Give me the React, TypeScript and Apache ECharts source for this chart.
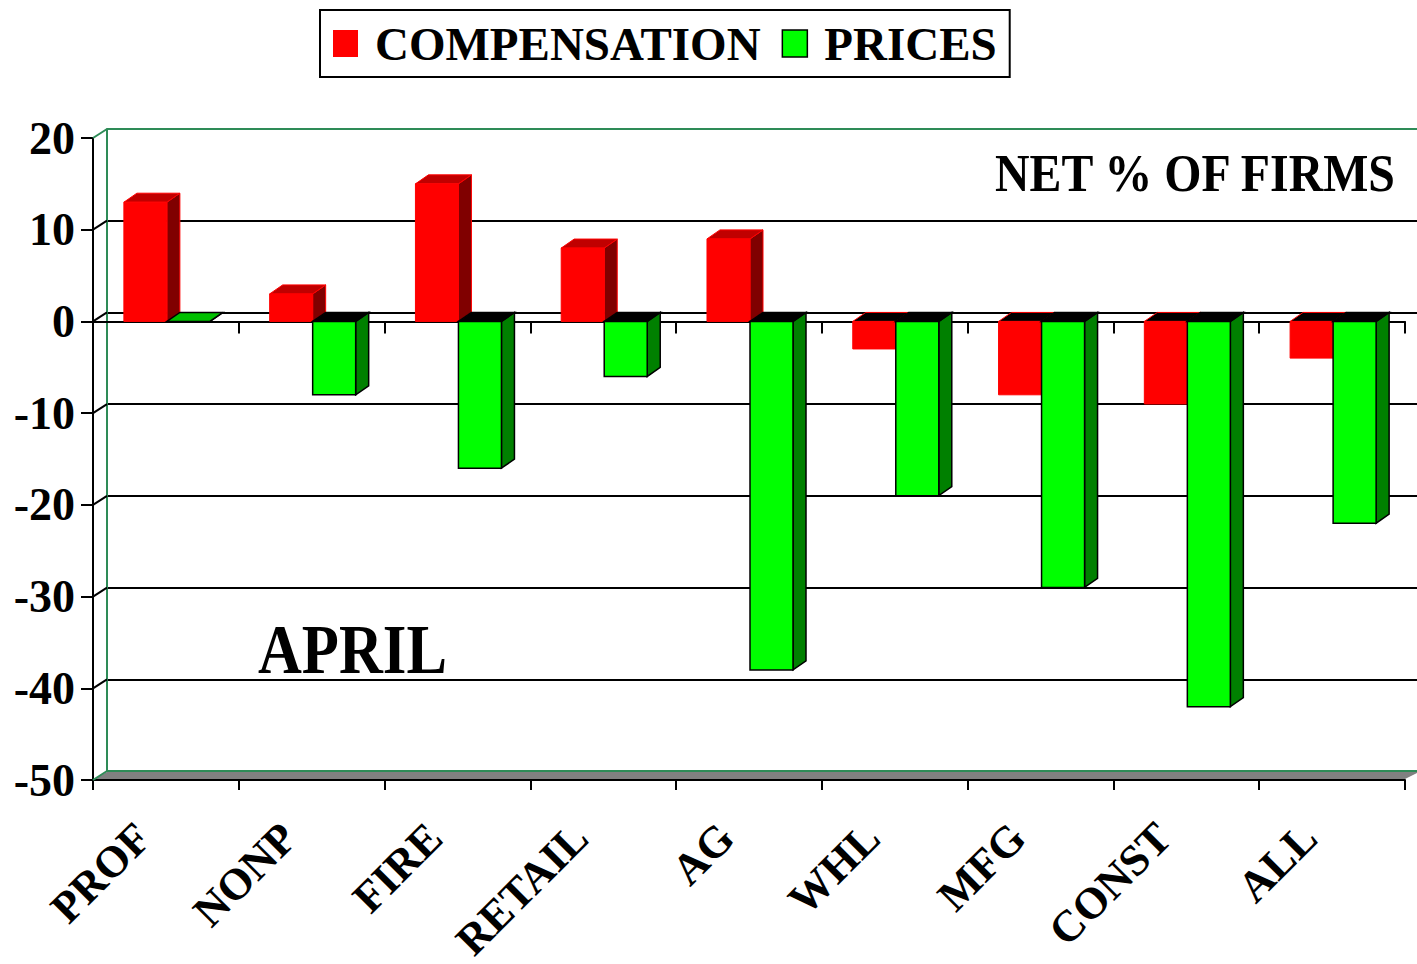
import React, { useEffect, useRef } from "react";
import * as echarts from "echarts";

const categories = ["PROF", "NONP", "FIRE", "RETAIL", "AG", "WHL", "MFG", "CONST", "ALL"];
const compensation = [13, 3, 15, 8, 9, -3, -8, -9, -4];
const prices = [0, -8, -16, -6, -38, -19, -29, -42, -22];
const yTicks = [-50, -40, -30, -20, -10, 0, 10, 20];
const Y_MIN = -50;
const Y_MAX = 20;
const Y_STEP = 10;

const FONT = "'Liberation Serif', 'Times New Roman', serif";
const WALL = "#2e8b57";
const DX = 13;
const DY = -9;

type Palette = { front: string; side: string; top: string; stroke: string; lw: number; negTopStroke: string };
const RED: Palette = { front: "#ff0000", side: "#800000", top: "#c00000", stroke: "#ff0000", lw: 1, negTopStroke: "#ff0000" };
const GREEN: Palette = { front: "#00ff00", side: "#008000", top: "#00c000", stroke: "#000000", lw: 1.5, negTopStroke: "#000000" };

function makeBarRender(side: number, pal: Palette) {
  return (params: any, api: any) => {
    const idx = api.value(0);
    const v = api.value(1);
    const c = api.coord([idx, 0]);
    const p = api.coord([idx, v]);
    const band = api.size([1, 0])[0];
    const w = band * 0.295;
    const x0 = side < 0 ? c[0] - w + 1 : c[0] + 1;
    const x1 = x0 + w;
    const yA = Math.min(c[1], p[1]);
    const yB = Math.max(c[1], p[1]);
    const positive = v >= 0;
    const children: any[] = [];
    children.push({
      type: "polygon",
      shape: { points: [[x1, yA], [x1 + DX, yA + DY], [x1 + DX, yB + DY], [x1, yB]] },
      style: { fill: pal.side, stroke: pal.stroke, lineWidth: pal.lw },
    });
    children.push({
      type: "polygon",
      shape: { points: [[x0, yA], [x0 + DX, yA + DY], [x1 + DX, yA + DY], [x1, yA]] },
      style: {
        fill: positive ? pal.top : "#000000",
        stroke: positive ? pal.stroke : pal.negTopStroke,
        lineWidth: pal.lw,
      },
    });
    if (yB - yA > 0.5) {
      children.push({
        type: "rect",
        shape: { x: x0, y: yA, width: w, height: yB - yA },
        style: { fill: pal.front, stroke: pal.stroke, lineWidth: pal.lw },
      });
    }
    return { type: "group", children };
  };
}

function frameRender(params: any, api: any) {
  const v = api.value(1);
  const y = api.coord([0, v])[1];
  const cs = params.coordSys;
  const left = cs.x;
  const width = cs.width;
  const edge = v === Y_MIN || v === Y_MAX;
  const children: any[] = [];
  if (v === Y_MIN) {
    children.push({
      type: "polygon",
      shape: {
        points: [
          [left + 1, y - 1],
          [left + width, y - 1],
          [left + width + DX + 1, y + DY + 1],
          [left + DX + 1, y + DY + 1],
        ],
      },
      style: { fill: "#808080" },
    });
  }
  children.push({
    type: "line",
    shape: { x1: left, y1: y, x2: left + DX + 1, y2: y + DY },
    style: { stroke: edge ? WALL : "#000000", lineWidth: 2 },
  });
  return { type: "group", children };
}

export default function App() {
  const ref = useRef<HTMLDivElement>(null);
  useEffect(() => {
    if (!ref.current) return;
    const chart = echarts.init(ref.current, null, { renderer: "svg" });
    const valueAxisBase = { type: "value", min: Y_MIN, max: Y_MAX, interval: Y_STEP };
    const splitColors = yTicks.map((t) => (t === Y_MIN || t === Y_MAX ? WALL : "#000000"));
    const gridBase = { containLabel: false, outerBoundsMode: "none" };
    const option: any = {
      animation: false,
      backgroundColor: "#ffffff",
      legend: {
        left: 320,
        top: 10,
        orient: "horizontal",
        padding: [10, 13, 10, 13],
        borderColor: "#000000",
        borderWidth: 2,
        itemGap: 21,
        itemWidth: 25,
        itemHeight: 27,
        icon: "rect",
        selectedMode: false,
        textStyle: {
          fontFamily: FONT,
          fontWeight: "bold",
          fontSize: 47,
          color: "#000000",
          lineHeight: 44,
          padding: [0, 0, 0, 12],
        },
        data: [
          { name: "COMPENSATION", itemStyle: { color: "#ff0000", borderWidth: 0 } },
          { name: "PRICES", itemStyle: { color: "#00ff00", borderColor: "#000000", borderWidth: 1.5 } },
        ],
      },
      grid: [
        { ...gridBase, left: 93, top: 138, width: 1312, height: 642 },
        { ...gridBase, left: 93, top: 138, width: 1312, height: 642 },
        { ...gridBase, left: 107, top: 129, width: 1312, height: 642 },
      ],
      xAxis: [
        {
          type: "category",
          gridIndex: 0,
          data: categories,
          position: "bottom",
          axisLine: { onZero: false, lineStyle: { color: "#000000", width: 2 } },
          axisTick: { show: true, length: 10, lineStyle: { color: "#000000", width: 2 } },
          axisLabel: {
            interval: 0,
            rotate: 45,
            margin: 28,
            padding: [0, 32, 0, 0],
            lineHeight: 38,
            fontFamily: FONT,
            fontWeight: "bold",
            fontSize: 44,
            color: "#000000",
          },
          splitLine: { show: false },
          z: 0,
        },
        {
          type: "category",
          gridIndex: 1,
          data: categories,
          position: "bottom",
          axisLine: { onZero: true, lineStyle: { color: "#000000", width: 2 } },
          axisTick: { show: true, length: 12, lineStyle: { color: "#000000", width: 2 } },
          axisLabel: { show: false },
          splitLine: { show: false },
          z: 0,
        },
        {
          type: "category",
          gridIndex: 2,
          data: categories,
          position: "bottom",
          axisLine: { onZero: false, lineStyle: { color: WALL, width: 2 } },
          axisTick: { show: false },
          axisLabel: { show: false },
          splitLine: { show: false },
          z: 0,
        },
      ],
      yAxis: [
        {
          ...valueAxisBase,
          gridIndex: 0,
          axisLine: { show: true, lineStyle: { color: "#000000", width: 2 } },
          axisTick: { show: true, length: 12, lineStyle: { color: "#000000", width: 2 } },
          axisLabel: {
            margin: 18,
            fontFamily: FONT,
            fontWeight: "bold",
            fontSize: 46,
            color: "#000000",
          },
          splitLine: { show: false },
          z: 0,
        },
        {
          ...valueAxisBase,
          gridIndex: 1,
          axisLine: { show: false },
          axisTick: { show: false },
          axisLabel: { show: false },
          splitLine: { show: false },
        },
        {
          ...valueAxisBase,
          gridIndex: 2,
          axisLine: { show: true, lineStyle: { color: WALL, width: 2 } },
          axisTick: { show: false },
          axisLabel: { show: false },
          splitLine: { show: true, lineStyle: { color: splitColors, width: 2 } },
          z: 0,
        },
      ],
      graphic: [
        {
          type: "text",
          x: 995,
          y: 173,
          scaleX: 0.92,
          style: {
            text: "NET % OF FIRMS",
            font: `bold 52px ${FONT}`,
            fill: "#000000",
            textAlign: "left",
            textVerticalAlign: "middle",
          },
          z: 10,
        },
        {
          type: "text",
          x: 258,
          y: 650,
          scaleX: 0.88,
          style: {
            text: "APRIL",
            font: `bold 69px ${FONT}`,
            fill: "#000000",
            textAlign: "left",
            textVerticalAlign: "middle",
          },
          z: 10,
        },
      ],
      series: [
        {
          type: "custom",
          name: "frame",
          xAxisIndex: 0,
          yAxisIndex: 0,
          z: 1,
          silent: true,
          data: yTicks.map((t) => [0, t]),
          renderItem: frameRender,
        },
        {
          type: "custom",
          name: "COMPENSATION",
          xAxisIndex: 0,
          yAxisIndex: 0,
          z: 3,
          itemStyle: { color: "#ff0000" },
          data: compensation.map((v, i) => [i, v]),
          renderItem: makeBarRender(-1, RED),
        },
        {
          type: "custom",
          name: "PRICES",
          xAxisIndex: 0,
          yAxisIndex: 0,
          z: 4,
          itemStyle: { color: "#00ff00" },
          data: prices.map((v, i) => [i, v]),
          renderItem: makeBarRender(1, GREEN),
        },
      ],
    };
    chart.setOption(option);
    return () => chart.dispose();
  }, []);
  return (
    <div
      ref={ref}
      style={{ position: "absolute", left: 0, top: 0, width: 1417, height: 964, background: "#ffffff" }}
    />
  );
}
